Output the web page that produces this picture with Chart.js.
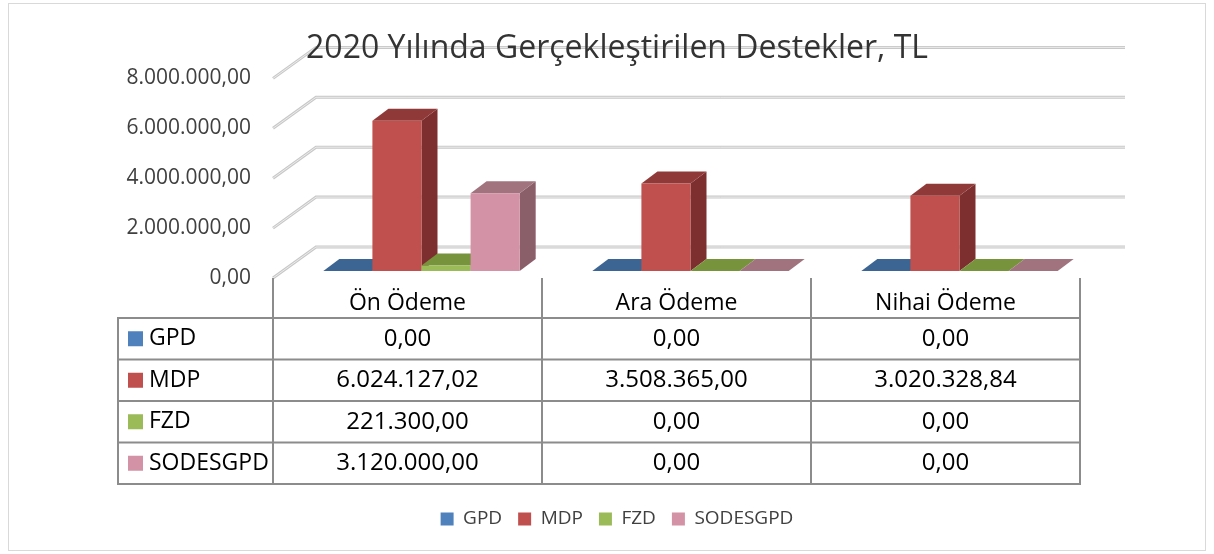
<!DOCTYPE html>
<html>
<head>
<meta charset="utf-8">
<script src="https://cdn.jsdelivr.net/npm/chart.js@4.4.1/dist/chart.umd.min.js"></script>
<style>
  html, body { margin: 0; padding: 0; background: #fff; }
  canvas { display: block; }
</style>
</head>
<body>
<canvas id="chart" width="1214" height="554"></canvas>
<script>
const categories = ["Ön Ödeme", "Ara Ödeme", "Nihai Ödeme"];
const seriesNames = ["GPD", "MDP", "FZD", "SODESGPD"];
const gpd = [0, 0, 0];
const mdp = [6024127.02, 3508365.0, 3020328.84];
const fzd = [221300.0, 0, 0];
const sodesgpd = [3120000.0, 0, 0];
const yMin = 0;
const yMax = 8000000;
const yStep = 2000000;

const frontColors = ["#4F81BD", "#C0504D", "#9BBB59", "#D392A6"];
const topColors = ["#3C6594", "#8F3A38", "#77933C", "#A0737F"];
const sideColors = ["#2F4F75", "#7C2F2E", "#5F7731", "#8A5F6A"];

const FONT = "'Open Sans', 'DejaVu Sans', sans-serif";

// 6024127.02 -> "6.024.127,02"
const fmt = (v) => {
  const [int, dec] = Math.abs(v).toFixed(2).split(".");
  return int.replace(/\B(?=(\d{3})+(?!\d))/g, ".") + "," + dec;
};

// fake 3D: back wall offset, bar front offset, bar depth
const WALL = { dx: 43, dy: -31 };
const FRONT = { dx: 14, dy: -7 };
const DEPTH = { dx: 16, dy: -12 };

const poly = (ctx, pts, color) => {
  ctx.beginPath();
  pts.forEach(([px, py], k) => (k ? ctx.lineTo(px, py) : ctx.moveTo(px, py)));
  ctx.closePath();
  ctx.fillStyle = color;
  ctx.fill();
};

const pseudo3d = {
  id: "pseudo3d",
  beforeDraw(chart) {
    const { ctx, chartArea: a, scales: { y } } = chart;
    ctx.save();
    ctx.strokeStyle = "#D9D9D9";
    ctx.lineWidth = 1;
    ctx.strokeRect(8.5, 3.5, chart.width - 17, chart.height - 7);

    // side wall diagonals + back wall lines
    y.ticks.forEach((t) => {
      const py = y.getPixelForValue(t.value);
      const pts = [[a.left, py], [a.left + WALL.dx, py + WALL.dy], [a.right + WALL.dx + 2, py + WALL.dy]];
      [[3, "#C8C8C8"], [1, "#ECECEC"]].forEach(([w, c]) => {
        ctx.beginPath();
        pts.forEach(([px, qy], k) => (k ? ctx.lineTo(px, qy) : ctx.moveTo(px, qy)));
        ctx.lineWidth = w;
        ctx.strokeStyle = c;
        ctx.stroke();
      });
    });
    ctx.restore();
  },
  beforeDatasetDraw() {
    return false; // bars are drawn by hand below
  },
  afterDatasetsDraw(chart) {
    const { ctx } = chart;
    ctx.save();
    categories.forEach((c, j) => {
      chart.data.datasets.forEach((ds, i) => {
        const el = chart.getDatasetMeta(i).data[j];
        const { x, y, base, width } = el.getProps(["x", "y", "base", "width"], true);
        const x0 = x - width / 2 + FRONT.dx;
        const x1 = x + width / 2 + FRONT.dx;
        const yt = y + FRONT.dy;
        const yb = base + FRONT.dy;
        const dx = DEPTH.dx, dy = DEPTH.dy;
        if (yb - yt > 0.5) {
          poly(ctx, [[x1, yt], [x1 + dx, yt + dy], [x1 + dx, yb + dy], [x1, yb]], sideColors[i]);
        }
        poly(ctx, [[x0, yt], [x1, yt], [x1 + dx, yt + dy], [x0 + dx, yt + dy]], topColors[i]);
        if (yb - yt > 0.5) {
          poly(ctx, [[x0, yt], [x1, yt], [x1, yb], [x0, yb]], frontColors[i]);
        }
      });
    });
    ctx.restore();
  },
  afterDraw(chart) {
    // data table under the plot
    const { ctx, scales: { x } } = chart;
    const colW = (x.right - x.left) / categories.length;
    const top = x.top;
    const headBottom = top + 40;
    const rowH = 41.5;
    const labelLeft = x.left - 155;
    const bottom = headBottom + rowH * seriesNames.length;
    ctx.save();
    ctx.strokeStyle = "#8C8C8C";
    ctx.lineWidth = 2;
    ctx.beginPath();
    for (let k = 0; k <= categories.length; k++) {
      const px = x.left + k * colW;
      ctx.moveTo(px, top);
      ctx.lineTo(px, bottom);
    }
    ctx.moveTo(labelLeft, headBottom);
    ctx.lineTo(labelLeft, bottom);
    for (let r = 0; r <= seriesNames.length; r++) {
      const py = headBottom + r * rowH;
      ctx.moveTo(labelLeft - 1, py);
      ctx.lineTo(x.right + 1, py);
    }
    ctx.stroke();

    ctx.textBaseline = "middle";
    chart.data.datasets.forEach((ds, i) => {
      const cy = headBottom + rowH * (i + 0.5);
      ctx.fillStyle = ds.backgroundColor;
      ctx.fillRect(labelLeft + 10, cy - 7.5, 15, 15);
      ctx.fillStyle = "#000";
      ctx.textAlign = "left";
      ctx.font = "23px " + FONT;
      ctx.fillText(ds.label, labelLeft + 31, cy);
      ctx.textAlign = "center";
      ctx.font = "24px " + FONT;
      ds.data.forEach((v, j) => ctx.fillText(fmt(v), x.getPixelForTick(j), cy));
    });
    ctx.restore();
  },
};

const seriesData = [gpd, mdp, fzd, sodesgpd];

new Chart(document.getElementById("chart"), {
  type: "bar",
  data: {
    labels: categories,
    datasets: seriesNames.map((name, i) => ({
      label: name,
      data: seriesData[i],
      backgroundColor: frontColors[i],
      borderWidth: 0,
      categoryPercentage: 0.73,
      barPercentage: 1,
      yAxisID: "y",
    })),
  },
  options: {
    responsive: false,
    animation: false,
    layout: { padding: { top: 0, left: 110, right: 90, bottom: 15.5 } },
    scales: {
      x: {
        grid: { display: false, drawTicks: false },
        border: { display: false },
        ticks: { color: "#000", padding: 12, font: { family: FONT, size: 23 } },
        afterFit: (s) => { s.height = 215.5; },
      },
      y: {
        min: yMin,
        max: yMax,
        grid: { display: false, drawTicks: false },
        border: { display: false },
        ticks: {
          stepSize: yStep,
          padding: 22,
          color: "#404040",
          font: { family: FONT, size: 21 },
          callback: (v) => fmt(v),
        },
        afterFit: (s) => { s.width = 163; },
      },
      // empty strip on the right for the depth of the back wall
      wall: {
        type: "linear",
        position: "right",
        grid: { display: false, drawTicks: false },
        border: { display: false },
        ticks: { display: false },
        afterFit: (s) => { s.width = 44; },
      },
    },
    plugins: {
      title: {
        display: true,
        text: "2020 Yılında Gerçekleştirilen Destekler, TL",
        color: "#333",
        font: { family: FONT, size: 32, weight: "normal" },
        padding: { top: 30, bottom: 10 },
      },
      legend: {
        position: "bottom",
        labels: {
          boxWidth: 13,
          boxHeight: 13,
          padding: 16,
          color: "#404040",
          font: { family: FONT, size: 19 },
        },
      },
      tooltip: { enabled: false },
    },
  },
  plugins: [pseudo3d],
});
</script>
</body>
</html>
